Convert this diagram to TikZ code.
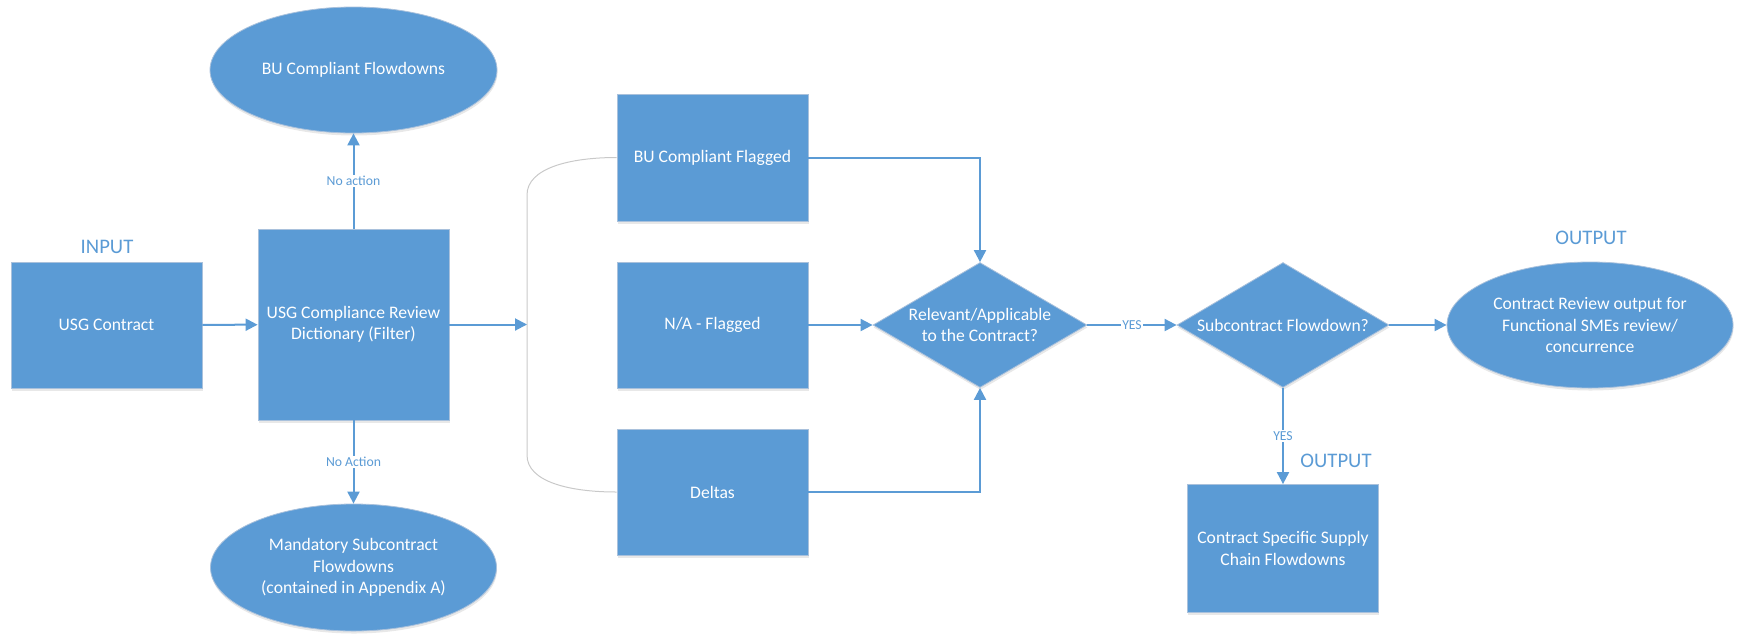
\documentclass[tikz,border=0pt]{standalone}
\usepackage{fontspec}
\setmainfont{Carlito}
\usetikzlibrary{shapes.geometric,arrows.meta,shadows}
\definecolor{ofblue}{HTML}{5B9BD5}
\definecolor{edgegray}{HTML}{A9C1DC}
\definecolor{brkgray}{HTML}{C9C9C9}
\begin{document}
\begin{tikzpicture}[x=1pt,y=-1pt,
  shp/.style={fill=ofblue, draw=edgegray, line width=0.8pt, text=white,
    font=\fontsize{17.6}{21.3}\selectfont, align=center, inner sep=0pt,
    drop shadow={opacity=0.18, shadow xshift=0.5pt, shadow yshift=-2.5pt}},
  boxn/.style={shp, rectangle},
  elln/.style={shp, ellipse},
  dia/.style={shp, diamond},
  arr/.style={draw=ofblue, line width=2pt, -{Triangle[length=12pt,width=12pt]}},
  lbl/.style={fill=white, text=ofblue, font=\fontsize{13.7}{16}\selectfont, inner sep=1.5pt},
  ttl/.style={text=ofblue, font=\fontsize{20.7}{24}\selectfont, inner sep=0pt},
  brkline/.style={draw=brkgray, line width=1pt}]
\useasboundingbox (0,0) rectangle (1739,633);

% nodes
\node[boxn, minimum width=191pt, minimum height=126pt] (usg) at (106.5,325) {USG Contract};
\node[boxn, minimum width=191pt, minimum height=191pt] (dict) at (353.5,324.5) {USG Compliance Review\\Dictionary (Filter)};
\node[elln, minimum width=287pt, minimum height=126pt] (buf) at (353.5,70) {BU Compliant Flowdowns};
\node[elln, minimum width=286pt, minimum height=127pt] (msf) at (353.5,567.5) {Mandatory Subcontract\\Flowdowns\\(contained in Appendix A)};
\node[boxn, minimum width=191pt, minimum height=127pt] (bfl) at (712.5,157.5) {BU Compliant Flagged};
\node[boxn, minimum width=191pt, minimum height=126pt] (na) at (712.5,325) {N/A - Flagged};
\node[boxn, minimum width=191pt, minimum height=126pt] (dl) at (712.5,492) {Deltas};
\node[dia, minimum width=214pt, minimum height=125pt, shape aspect=1.71] (d1) at (980,325) {Relevant/Applicable\\to the Contract?};
\node[dia, minimum width=212pt, minimum height=125pt, shape aspect=1.7] (d2) at (1283,325) {Subcontract Flowdown?};
\node[elln, minimum width=286pt, minimum height=126pt] (cro) at (1590,325) {Contract Review output for\\Functional SMEs review/\\concurrence};
\node[boxn, minimum width=191pt, minimum height=128pt] (sup) at (1283,548.5) {Contract Specific Supply\\Chain Flowdowns};

% titles
\node[ttl] (inp) at (107,247) {INPUT};
\node[ttl] (out1) at (1591,238) {OUTPUT};
\node[ttl] (out2) at (1336,461) {OUTPUT};

% bracket
\coordinate (brk) at (527,325);
\draw[brkline] (bfl.west) .. controls (570,157.5) and (527,168) .. (527,195) -- (527,455) .. controls (527,482) and (570,492) .. (dl.west);

% connectors
\draw[arr] (usg) -- (dict);
\draw[arr] (dict.east) -- (dict.east -| brk);
\draw[arr] (dict) -- node[lbl] {No action} (buf);
\draw[arr] (dict) -- node[lbl] {No Action} (msf);
\draw[arr] (bfl.east) -| (d1.north);
\draw[arr] (na) -- (d1);
\draw[arr] (dl.east) -| (d1.south);
\draw[arr] (d1) -- node[lbl] {YES} (d2);
\draw[arr] (d2) -- (cro);
\draw[arr] (d2) -- node[lbl] {YES} (sup);
\end{tikzpicture}
\end{document}
